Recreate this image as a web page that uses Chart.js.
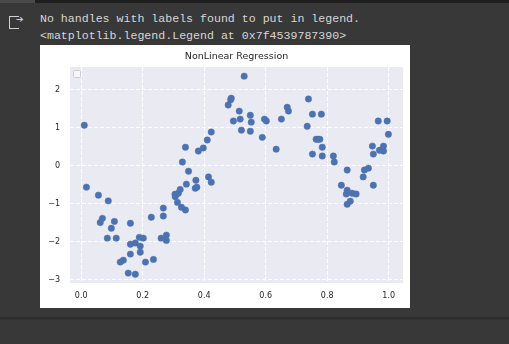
<!DOCTYPE html>
<html>
<head>
<meta charset="utf-8">
<script src="https://cdn.jsdelivr.net/npm/chart.js@4"></script>
<style>
  html, body { margin:0; padding:0; width:509px; height:344px; overflow:hidden; background:#383838; }
  #topbar { position:absolute; left:0; top:0; width:509px; height:3px; background:#1f1f1f; }
  #topbarLeft { position:absolute; left:0; top:0; width:35px; height:3px; background:#4a4a4a; }
  .out { position:absolute; left:40px; font-family:"Liberation Mono", "DejaVu Sans Mono", monospace; font-size:11.6px; line-height:17px; color:#d6d6d6; white-space:pre; }
  #icon { position:absolute; left:9px; top:16px; width:9px; height:11px; border:1.5px solid #cfcfcf; border-right:none; }
  #iconArrow { position:absolute; left:16px; top:14px; font-family:"DejaVu Sans"; font-size:9px; color:#cfcfcf; }
  #fig { position:absolute; left:40px; top:45px; width:370px; height:263px; background:#ffffff; }
  #legendBox { position:absolute; left:73px; top:70px; width:6px; height:6px; border:1px solid #cccccc; border-radius:1.5px; background:rgba(255,255,255,0.6); }
  #shadow { position:absolute; left:0; top:317px; width:509px; height:3px; background:linear-gradient(#2a2a2a,#333333); }
</style>
</head>
<body>
<div id="topbar"></div><div id="topbarLeft"></div>
<div id="icon"></div><div id="iconArrow">➔</div>
<div class="out" style="top:10px;">No handles with labels found to put in legend.</div>
<div class="out" style="top:27px;">&lt;matplotlib.legend.Legend at 0x7f4539787390&gt;</div>
<div id="fig"><canvas id="c"></canvas></div>
<div id="legendBox"></div>
<div id="shadow"></div>
<script>
const chartTitle = "NonLinear Regression";
const xValues = [
  0.010, 0.017, 0.056, 0.088, 0.069, 0.062, 0.108, 0.098, 0.160, 0.085,
  0.114, 0.228, 0.267, 0.267, 0.189, 0.202, 0.160, 0.176, 0.192, 0.192,
  0.160, 0.260, 0.277, 0.277, 0.137, 0.127, 0.235, 0.209, 0.153, 0.176,
  0.305, 0.306, 0.316, 0.322, 0.313, 0.326, 0.339, 0.342, 0.373, 0.371,
  0.376, 0.414, 0.423, 0.349, 0.329, 0.339, 0.381, 0.397, 0.410, 0.423,
  0.530, 0.488, 0.486, 0.478, 0.514, 0.550, 0.495, 0.517, 0.553, 0.596,
  0.602, 0.521, 0.550, 0.589, 0.634, 0.651, 0.670, 0.674, 0.739, 0.752,
  0.781, 0.735, 0.764, 0.770, 0.776, 0.784, 0.752, 0.784, 0.820, 0.823,
  0.865, 0.921, 0.934, 0.917, 0.966, 0.995, 0.999, 0.947, 0.950, 0.970,
  0.983, 0.983, 0.846, 0.865, 0.862, 0.881, 0.894, 0.950, 0.875, 0.865
];
const yValues = [
  1.07, -0.56, -0.77, -0.92, -1.38, -1.49, -1.46, -1.64, -1.51, -1.90,
  -1.90, -1.35, -1.11, -1.32, -1.88, -1.90, -2.06, -2.03, -2.11, -2.27,
  -2.32, -1.90, -1.82, -1.96, -2.48, -2.53, -2.46, -2.53, -2.82, -2.85,
  -0.745, -0.81, -0.72, -0.62, -0.96, -1.09, -1.16, -0.48, -0.38, -0.59,
  -0.56, -0.29, -0.43, -0.14, 0.10, 0.49, 0.39, 0.47, 0.68, 0.89,
  2.36, 1.78, 1.74, 1.60, 1.44, 1.33, 1.18, 1.23, 1.15, 1.23,
  1.18, 0.94, 0.91, 0.75, 0.44, 1.23, 1.54, 1.44, 1.76, 1.36,
  1.36, 1.04, 0.70, 0.70, 0.70, 0.49, 0.31, 0.26, 0.26, 0.10,
  -0.11, -0.11, -0.06, -0.29, 1.18, 1.18, 0.83, 0.52, 0.31, 0.41,
  0.52, 0.39, -0.51, -0.64, -0.74, -0.72, -0.74, -0.51, -0.93, -1.01
];
const xTicks = [0.0, 0.2, 0.4, 0.6, 0.8, 1.0];
const xTickLabels = ["0.0", "0.2", "0.4", "0.6", "0.8", "1.0"];
const yTicks = [-3, -2, -1, 0, 1, 2];
const yTickLabels = ["\u22123", "\u22122", "\u22121", "0", "1", "2"];

const points = xValues.map((x, i) => ({ x: x, y: yValues[i] }));

const plotBg = {
  id: 'plotBg',
  beforeDraw(chart) {
    const a = chart.chartArea, ctx = chart.ctx;
    ctx.save();
    ctx.fillStyle = '#EAEAF2';
    ctx.fillRect(a.left, a.top, a.right - a.left, a.bottom - a.top);
    ctx.restore();
  }
};

const tickFont = { family: "'DejaVu Sans', sans-serif", size: 8 };
const gridDash = [4, 2];

new Chart(document.getElementById('c'), {
  type: 'scatter',
  data: {
    datasets: [{
      data: points,
      backgroundColor: '#4C72B0',
      borderColor: '#4C72B0',
      borderWidth: 0.5,
      pointRadius: 3.2,
      pointHoverRadius: 3.2
    }]
  },
  plugins: [plotBg],
  options: {
    responsive: true,
    maintainAspectRatio: false,
    animation: false,
    layout: { padding: { left: 0, right: 7, top: 0, bottom: 0 } },
    plugins: {
      legend: { display: false },
      tooltip: { enabled: false },
      title: {
        display: true,
        text: chartTitle,
        fullSize: false,
        color: '#262626',
        font: { family: "'DejaVu Sans', sans-serif", size: 9.5, weight: 'normal' },
        padding: { top: 5.6, bottom: 5.0 }
      }
    },
    scales: {
      x: {
        type: 'linear',
        min: -0.0364,
        max: 1.0465,
        afterBuildTicks(scale) { scale.ticks = xTicks.map(v => ({ value: v })); },
        afterFit(scale) { scale.height = 25; },
        ticks: {
          color: '#262626',
          font: tickFont,
          padding: 8,
          maxRotation: 0,
          callback(v) { const i = xTicks.indexOf(v); return i >= 0 ? xTickLabels[i] : ''; }
        },
        grid: { color: '#ffffff', lineWidth: 1, drawTicks: false, borderDash: gridDash, tickBorderDash: gridDash },
        border: { display: false, dash: gridDash }
      },
      y: {
        type: 'linear',
        min: -3.08,
        max: 2.60,
        afterBuildTicks(scale) { scale.ticks = yTicks.map(v => ({ value: v })); },
        afterFit(scale) { scale.width = 30; },
        ticks: {
          color: '#262626',
          font: tickFont,
          padding: 10,
          callback(v) { const i = yTicks.indexOf(v); return i >= 0 ? yTickLabels[i] : ''; }
        },
        grid: { color: '#ffffff', lineWidth: 1, drawTicks: false, borderDash: gridDash, tickBorderDash: gridDash },
        border: { display: false, dash: gridDash }
      }
    }
  }
});
</script>
</body>
</html>
